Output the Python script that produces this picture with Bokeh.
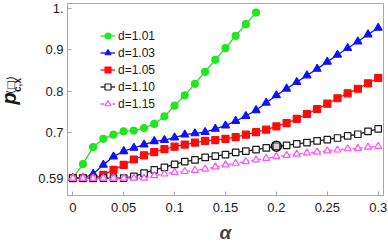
from math import pi
from bokeh.plotting import figure
from bokeh.layouts import row
from bokeh.models import Range1d, FixedTicker, Label, Legend, LegendItem
from bokeh.embed import file_html
from bokeh.resources import INLINE

# ---- data ----
alpha = [0.00, 0.01, 0.02, 0.03, 0.04, 0.05, 0.06, 0.07, 0.08, 0.09, 0.10,
         0.11, 0.12, 0.13, 0.14, 0.15, 0.16, 0.17, 0.18, 0.19, 0.20,
         0.21, 0.22, 0.23, 0.24, 0.25, 0.26, 0.27, 0.28, 0.29, 0.30]

p_d101 = [0.590, 0.624, 0.665, 0.685, 0.695, 0.703, 0.705, 0.711, 0.721, 0.739,
          0.765, 0.790, 0.818, 0.847, 0.876, 0.904, 0.934, 0.962, 0.990]
p_d103 = [0.590, 0.590, 0.600, 0.622, 0.642, 0.655, 0.663, 0.671, 0.679, 0.682,
          0.688, 0.695, 0.698, 0.701, 0.709, 0.717, 0.728, 0.740, 0.754, 0.772,
          0.790, 0.806, 0.822, 0.838, 0.854, 0.871, 0.888, 0.904, 0.920, 0.937, 0.953]
p_d105 = [0.590, 0.590, 0.590, 0.598, 0.610, 0.622, 0.635, 0.645, 0.653, 0.660,
          0.666, 0.671, 0.676, 0.680, 0.682, 0.685, 0.689, 0.695, 0.701, 0.707,
          0.715, 0.723, 0.733, 0.745, 0.757, 0.770, 0.783, 0.795, 0.806, 0.819, 0.832]
p_d110 = [0.590, 0.590, 0.590, 0.590, 0.590, 0.590, 0.594, 0.602, 0.610, 0.616,
          0.623, 0.630, 0.634, 0.640, 0.643, 0.647, 0.652, 0.655, 0.659, 0.663,
          0.667, 0.669, 0.673, 0.676, 0.680, 0.683, 0.687, 0.692, 0.696, 0.703, 0.709]
p_d115 = [0.590, 0.590, 0.590, 0.590, 0.590, 0.590, 0.590, 0.590, 0.596, 0.600,
          0.604, 0.606, 0.609, 0.612, 0.617, 0.622, 0.626, 0.630, 0.634, 0.638,
          0.642, 0.645, 0.648, 0.651, 0.653, 0.656, 0.658, 0.661, 0.662, 0.665, 0.667]

highlight_alpha = [0.20]
highlight_p = [0.667]

x_ticks = [0, 0.05, 0.1, 0.15, 0.2, 0.25, 0.3]
x_tick_labels = ["0", "0.05", "0.1", "0.15", "0.2", "0.25", "0.3"]
y_ticks = [0.59, 0.7, 0.8, 0.9, 1.0]
y_tick_labels = ["0.59", "0.7", "0.8", "0.9", "1."]
legend_labels = ["d=1.01", "d=1.03", "d=1.05", "d=1.10", "d=1.15"]

# ---- narrow strip holding the composite y-axis title ----
LBL_W = 30
H = 245
lab = figure(width=LBL_W, height=H, output_backend="svg", toolbar_location=None,
             x_range=Range1d(0, LBL_W), y_range=Range1d(0, H),
             min_border_left=0, min_border_right=0, min_border_top=0, min_border_bottom=0,
             x_axis_location=None, y_axis_location=None)
lab.outline_line_color = None
lab.xgrid.visible = False
lab.ygrid.visible = False
lab.background_fill_color = "white"
lab.border_fill_color = "white"

def title_piece(txt, cx, cy, font, style, size):
    lab.add_layout(Label(x=cx, y=H - cy, text=txt, angle=pi / 2,
                         text_font=font, text_font_style=style, text_font_size=size,
                         text_align="center", text_baseline="middle",
                         text_color="#1a1a1a"))

title_piece("p", 8, 121, "Liberation Sans", "bold italic", "20px")
title_piece("c,x", 17, 104, "Liberation Sans", "bold", "10px")
title_piece("(□)", 9.5, 104, "DejaVu Sans", "normal", "10px")

# ---- main figure ----
X0, X1 = -0.0052, 0.3052
Y0, Y1 = 0.548, 1.012
p = figure(width=388 - LBL_W, height=H, output_backend="svg", toolbar_location=None,
           x_range=Range1d(X0, X1), y_range=Range1d(Y0, Y1),
           min_border_left=67 - LBL_W, min_border_right=5, min_border_top=3, min_border_bottom=48)
p.background_fill_color = "white"
p.border_fill_color = "white"
p.xgrid.visible = False
p.ygrid.visible = False
p.outline_line_color = "#a8a8a8"
p.outline_line_width = 1

for ax in (p.xaxis, p.yaxis):
    ax.axis_line_color = "#a8a8a8"
    ax.major_tick_line_color = "#a8a8a8"
    ax.major_tick_in = 4
    ax.major_tick_out = 0
    ax.minor_tick_line_color = None
    ax.major_label_text_font = "Liberation Sans"
    ax.major_label_text_font_size = "13px"
    ax.major_label_text_color = "#1a1a1a"

p.xaxis.ticker = FixedTicker(ticks=x_ticks)
p.xaxis.major_label_overrides = dict(zip(x_ticks, x_tick_labels))
p.xaxis.major_label_standoff = 7
p.yaxis.ticker = FixedTicker(ticks=y_ticks)
p.yaxis.major_label_overrides = dict(zip(y_ticks, y_tick_labels))
p.yaxis.major_label_standoff = 4

p.xaxis.axis_label = "α"
p.xaxis.axis_label_text_font = "Liberation Sans"
p.xaxis.axis_label_text_font_style = "bold italic"
p.xaxis.axis_label_text_font_size = "19px"
p.xaxis.axis_label_standoff = 7

# ---- series ----
series = [
    (p_d101, "#22e522", "circle", 7, "#22e522", "solid"),
    (p_d103, "#1010ff", "triangle", 8, "#1010ff", "solid"),
    (p_d105, "#ff0a0a", "square", 7, "#ff0a0a", "solid"),
    (p_d110, "#1a1a1a", "square", 6.5, "white", "solid"),
    (p_d115, "#ff50ff", "triangle", 7, "white", "4 2"),
]
items = []
for (vals, col, mk, sz, fill, dash), lbl in zip(series, legend_labels):
    xs = alpha[:len(vals)]
    ln = p.line(xs, vals, line_color=col, line_width=1.3, line_dash=dash)
    sc = p.scatter(xs, vals, marker=mk, size=sz, line_color=col, fill_color=fill, line_width=1.2)
    items.append(LegendItem(label=lbl, renderers=[ln, sc]))

p.scatter(highlight_alpha, highlight_p, marker="circle", size=10, line_color="#111111",
          line_width=1.6, fill_color="#888888", fill_alpha=0.35)

legend = Legend(items=items, location=(33, 84), padding=0, margin=0,
                border_line_color=None, background_fill_alpha=0,
                label_text_font="Liberation Sans", label_text_font_size="12px",
                label_text_color="#1a1a1a",
                glyph_width=15, glyph_height=15, label_height=15, spacing=2,
                label_standoff=3)
p.add_layout(legend)

layout = row(lab, p, spacing=0)
open("out.html", "w").write(file_html(layout, INLINE))
